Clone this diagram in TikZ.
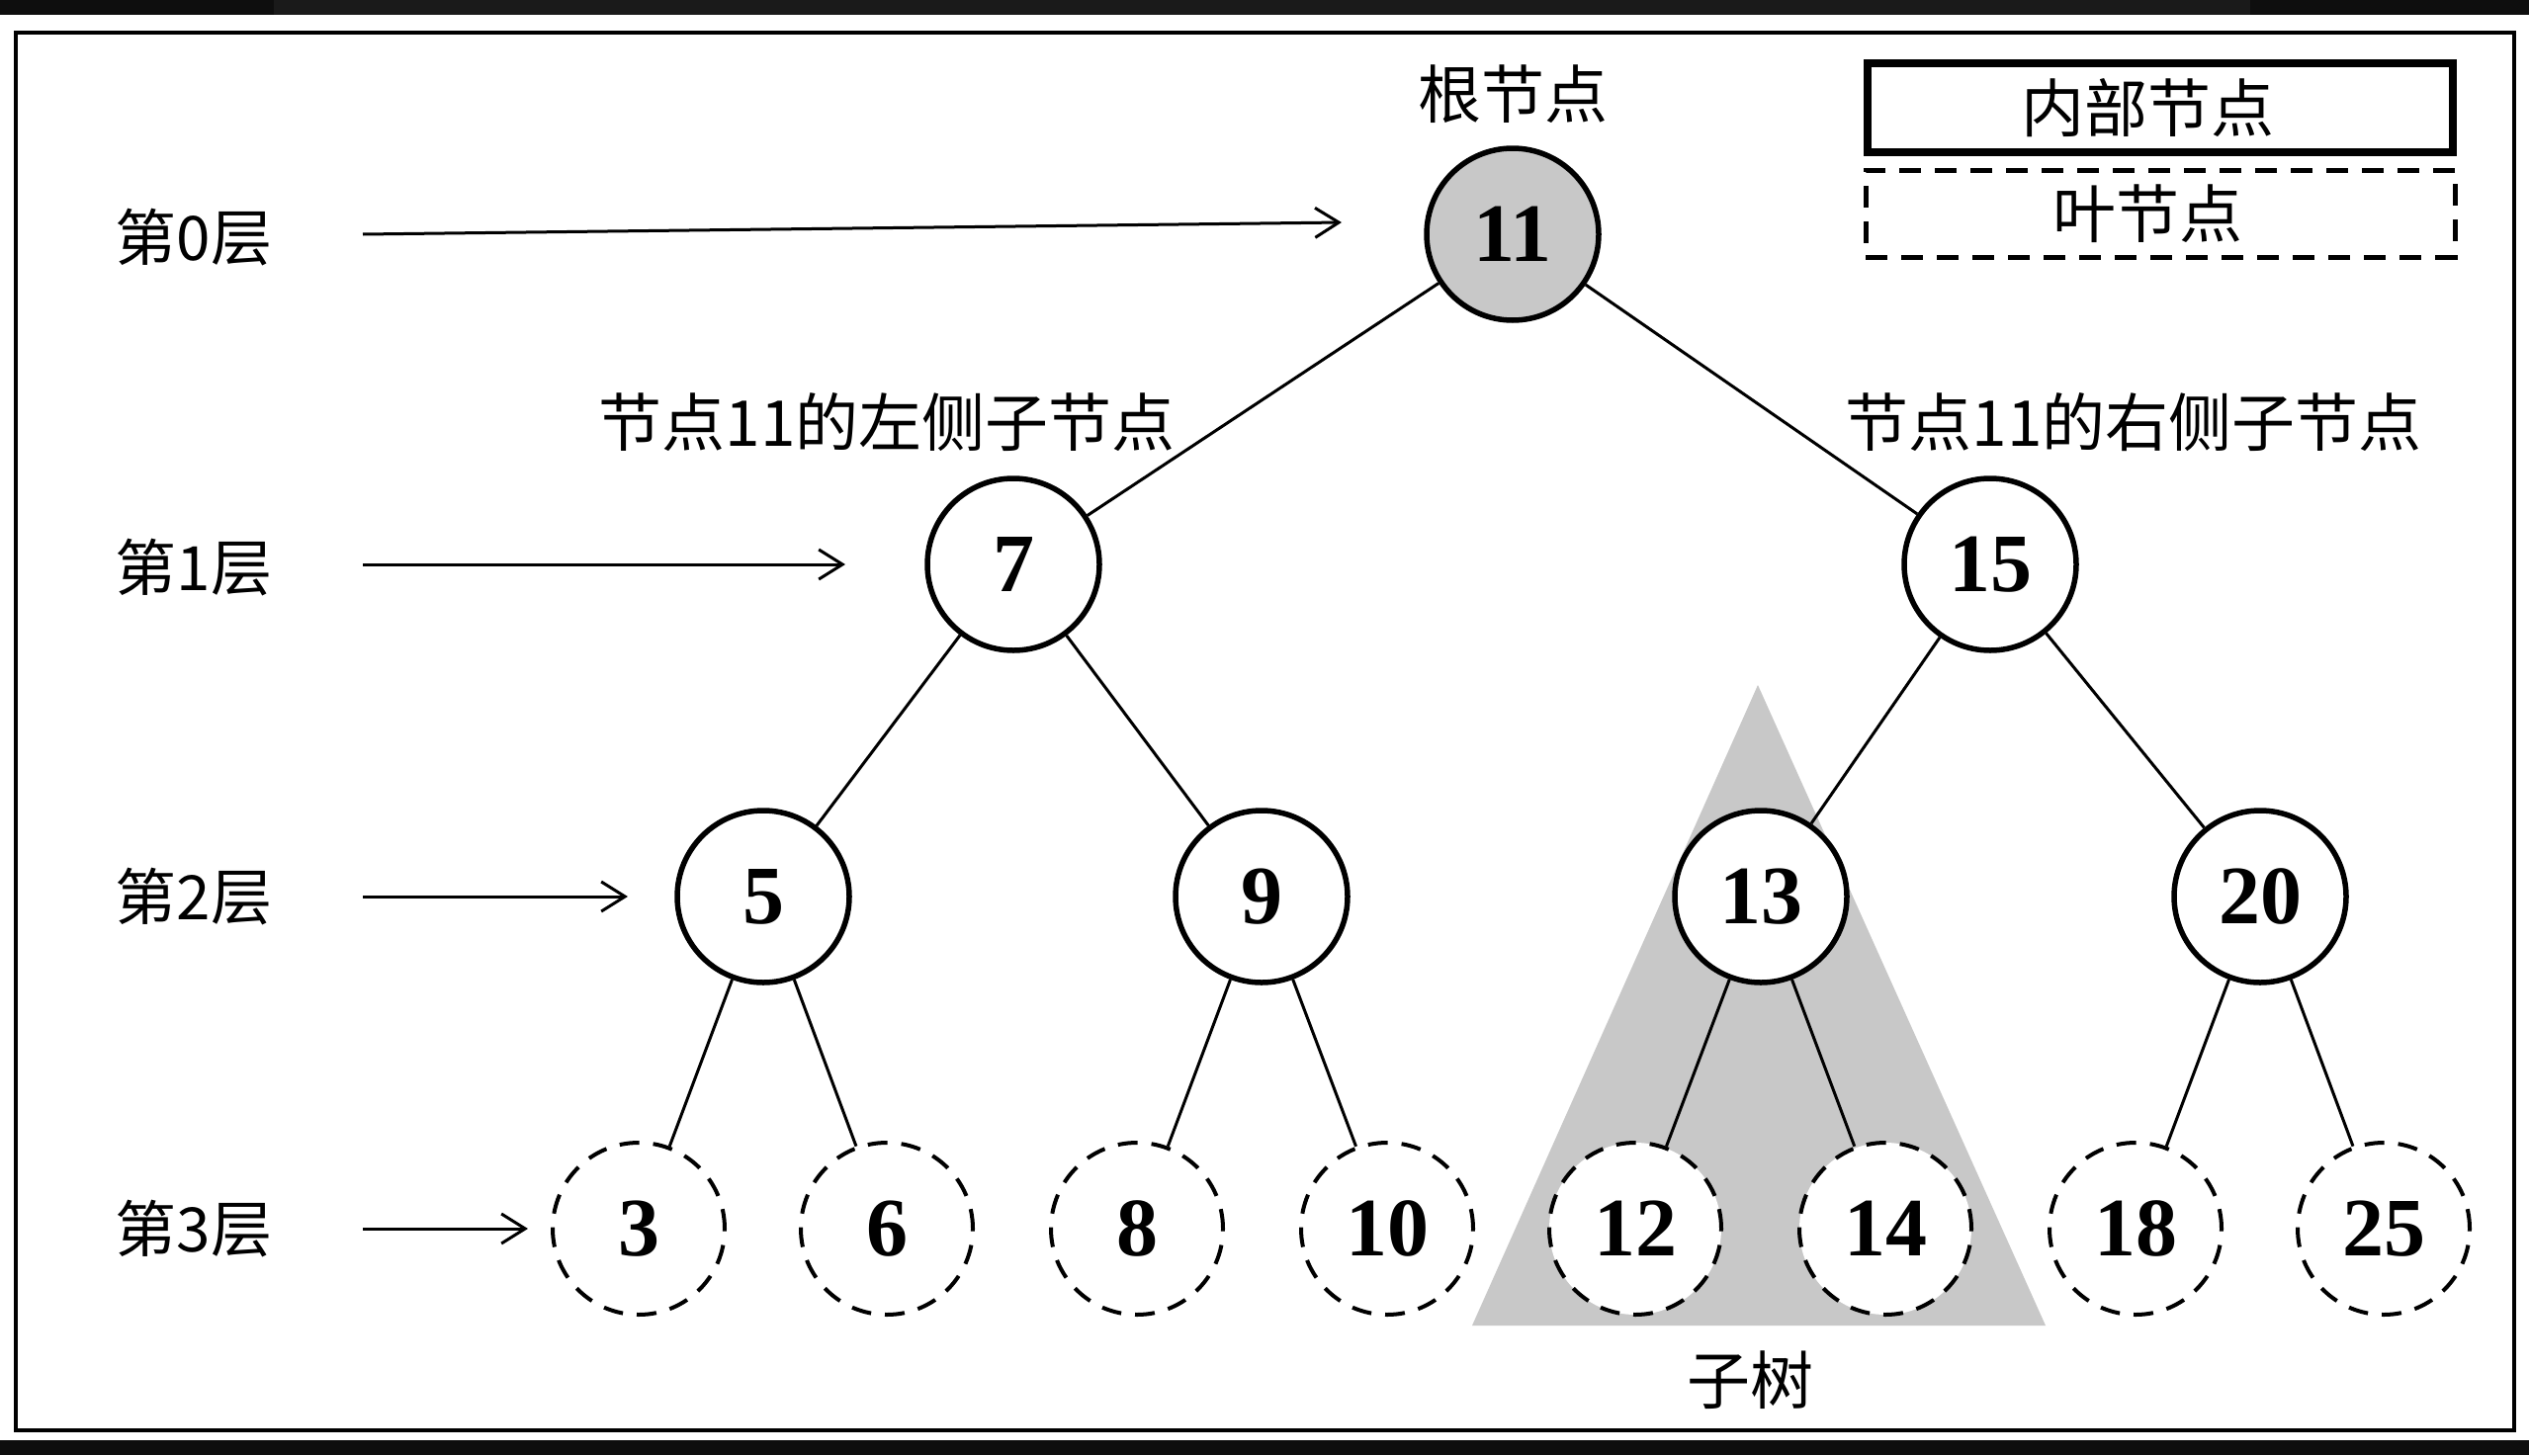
\documentclass[tikz,border=0pt]{standalone}
\usepackage{fontspec}
\setmainfont{Liberation Serif}
\newfontfamily\cjk{Noto Sans CJK SC}
\usetikzlibrary{arrows.meta}
\definecolor{subtreegray}{HTML}{C8C8C8}
\definecolor{barbg}{HTML}{0E0E0E}
\definecolor{barmid}{HTML}{1A1A1A}
\begin{document}
\begin{tikzpicture}[x=1pt,y=-1pt,
  numfont/.style={font=\fontsize{84}{90}\selectfont\bfseries},
  innernode/.style={circle, draw, line width=5.5pt, minimum size=174pt, inner sep=0pt, fill=white, numfont},
  leafnode/.style={circle, draw, line width=4pt, dash pattern=on 20pt off 14pt, minimum size=174pt, inner sep=0pt, fill=white, numfont},
  edge/.style={line width=3pt},
  cjktext/.style={font=\cjk\fontsize{62}{70}\selectfont, inner sep=0pt},
  bigcjk/.style={font=\cjk\fontsize{64}{70}\selectfont, inner sep=0pt},
  lvlarrow/.style={line width=3pt, -{Straight Barb[length=24pt,width=30pt,line width=3pt]}},
]
% page and frame
\useasboundingbox (0,0) rectangle (2558,1472);
\fill[white] (0,0) rectangle (2558,1472);
\fill[barbg] (0,0) rectangle (2558,15);
\fill[barmid] (277,0) rectangle (2276,15);
\fill[barbg] (0,1457) rectangle (2558,1472);
\draw[line width=4pt] (16,33) rectangle (2543,1447);

% subtree triangle
\fill[subtreegray] (1778,693) -- (2069,1341) -- (1489,1341) -- cycle;

% nodes
\node[innernode, fill=subtreegray] (n11) at (1530,237) {11};
\node[innernode] (n7)  at (1025,571) {7};
\node[innernode] (n15) at (2013,571) {15};
\node[innernode] (n5)  at (772,907) {5};
\node[innernode] (n9)  at (1276,907) {9};
\node[innernode] (n13) at (1781,907) {13};
\node[innernode] (n20) at (2286,907) {20};
\node[leafnode] (n3)  at (646,1243) {3};
\node[leafnode] (n6)  at (897,1243) {6};
\node[leafnode] (n8)  at (1150,1243) {8};
\node[leafnode] (n10) at (1403,1243) {10};
\node[leafnode] (n12) at (1654,1243) {12};
\node[leafnode] (n14) at (1907,1243) {14};
\node[leafnode] (n18) at (2160,1243) {18};
\node[leafnode] (n25) at (2411,1243) {25};

% edges
\draw[edge] (n11) -- (n7);
\draw[edge] (n11) -- (n15);
\draw[edge] (n7) -- (n5);
\draw[edge] (n7) -- (n9);
\draw[edge] (n15) -- (n13);
\draw[edge] (n15) -- (n20);
\draw[edge] (n5) -- (n3);
\draw[edge] (n5) -- (n6);
\draw[edge] (n9) -- (n8);
\draw[edge] (n9) -- (n10);
\draw[edge] (n13) -- (n12);
\draw[edge] (n13) -- (n14);
\draw[edge] (n20) -- (n18);
\draw[edge] (n20) -- (n25);

% labels
\node[bigcjk] (root) at (1530,95) {根节点};
\node[bigcjk] (lchild) at (897,427) {节点11的左侧子节点};
\node[bigcjk] (rchild) at (2158,427) {节点11的右侧子节点};
\node[bigcjk] (subtree) at (1770,1396) {子树};

% level labels and arrows
\node[cjktext] (l0) at (196,240) {第0层};
\node[cjktext] (l1) at (196,574) {第1层};
\node[cjktext] (l2) at (196,907) {第2层};
\node[cjktext] (l3) at (196,1243) {第3层};
\coordinate (a0s) at (367,237);  \coordinate (a0e) at (1357,225);
\coordinate (a1s) at (367,571);  \coordinate (a1e) at (855,571);
\coordinate (a2s) at (367,907);  \coordinate (a2e) at (635,907);
\coordinate (a3s) at (367,1243); \coordinate (a3e) at (534,1243);
\draw[lvlarrow] (a0s) -- (a0e);
\draw[lvlarrow] (a1s) -- (a1e);
\draw[lvlarrow] (a2s) -- (a2e);
\draw[lvlarrow] (a3s) -- (a3e);

% legend
\node[draw, line width=8pt, minimum width=592pt, minimum height=90pt, inner sep=0pt] (leginner) at (2185,109) {};
\node[bigcjk] (leginnert) at ([xshift=-13pt]leginner.center) {内部节点};
\node[draw, line width=5pt, dash pattern=on 22pt off 14pt, minimum width=596pt, minimum height=88pt, inner sep=0pt] (legleaf) at (2185,216) {};
\node[bigcjk] (legleaft) at ([xshift=-13pt]legleaf.center) {叶节点};
\end{tikzpicture}
\end{document}
